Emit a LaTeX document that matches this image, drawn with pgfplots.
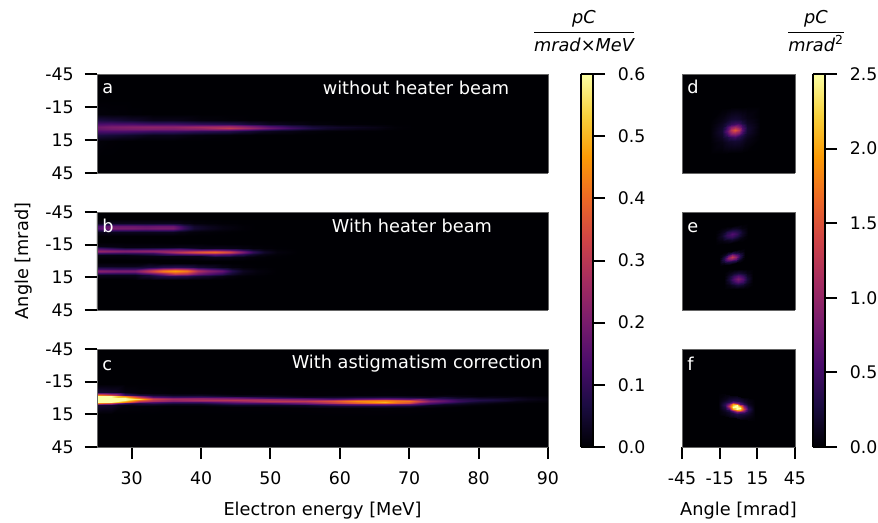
\documentclass[border=0pt]{standalone}
\usepackage{fontspec}
\setmainfont{DejaVu Sans}
\usepackage{pgfplots}
\pgfplotsset{compat=1.18}
\definecolor{inf0}{RGB}{0,0,4}
\pgfplotsset{
  colormap={inferno}{rgb255=(0,0,4) rgb255=(27,12,65) rgb255=(74,12,107) rgb255=(120,28,109) rgb255=(165,44,96) rgb255=(207,68,70) rgb255=(237,105,37) rgb255=(251,155,6) rgb255=(247,209,61) rgb255=(252,255,164)},
  colormap name=inferno,
  panel/.style={
    scale only axis, anchor=south west, view={0}{90},
    y dir=reverse, ymin=-45, ymax=45,
    axis background/.style={fill=inf0},
    axis on top,
    axis line style={draw=black!60, line width=0.7pt},
    tick style={draw=black, line width=1.5pt},
    major tick length=9pt,
    tick align=outside,
    ticklabel style={font=\fontsize{13}{15}\selectfont},
    xticklabel style={yshift=-6pt},
    yticklabel style={xshift=-5pt},
    label style={font=\fontsize{13.3}{15}\selectfont},
    xtick pos=bottom, ytick pos=left,
  },
  wide/.style={panel, width=338.25pt, xmin=25, xmax=90,
    point meta min=0, point meta max=0.6,
    ytick={-45,-15,15,45}, yticklabels={-45,-15,15,45}, xtick=\empty},
  narrow/.style={panel, width=84.75pt, xmin=-45, xmax=45,
    point meta min=0, point meta max=2.5,
    ytick=\empty, xtick=\empty},
  cbar/.style={scale only axis, anchor=south west, view={0}{90}, width=9.4pt, height=279.75pt,
    xmin=0, xmax=1, xtick=\empty, ytick pos=right, yticklabel pos=right,
    axis on top, axis line style={draw=black, line width=1.5pt},
    tick style={draw=black, line width=1.5pt}, major tick length=9pt, tick align=outside,
    ticklabel style={font=\fontsize{13}{15}\selectfont},
    yticklabel style={xshift=6pt}},
}
\begin{document}
\begin{tikzpicture}
\useasboundingbox (0,0) rectangle (658.5pt,391.5pt);
% panel a
\begin{axis}[wide, at={(72.75pt,261.75pt)}, height=74.25pt]
\addplot3[surf, shader=interp, mesh/cols=11] coordinates {
(25,-21.5,0)(25,-8.5,.006)(25,-3,.065)(25,0,.135)(25,2,.172)(25,3.2,.185)(25,5,.172)(25,7,.135)(25,10,.065)(25,16,.006)(25,33.5,0)
(27,-21.5,0)(27,-8.5,.004)(27,-3,.056)(27,0,.14)(27,2,.19)(27,3.2,.205)(27,5,.19)(27,7,.14)(27,10,.056)(27,16,.002)(27,33.5,0)
(30,-21.5,0)(30,-8.5,.001)(30,-3,.04)(30,0,.135)(30,2,.2)(30,3.3,.22)(30,5,.2)(30,7,.135)(30,10,.04)(30,16,0)(30,33.5,0)
(33,-21.5,0)(33,-8.5,0)(33,-3,.022)(33,0,.12)(33,2,.205)(33,3.4,.23)(33,5,.205)(33,7,.12)(33,10,.022)(33,16,0)(33,33.5,0)
(36,-21.5,0)(36,-8.5,0)(36,-3,.022)(36,0,.12)(36,2,.205)(36,3.5,.23)(36,5,.205)(36,7,.12)(36,10,.022)(36,16,0)(36,33.5,0)
(40,-21.5,0)(40,-8.5,0)(40,-3,.009)(40,0,.1)(40,2,.22)(40,3.6,.265)(40,5,.22)(40,7,.1)(40,10,.009)(40,16,0)(40,33.5,0)
(44,-21.5,0)(44,-8.5,0)(44,-3,.004)(44,0,.086)(44,2,.24)(44,3.8,.31)(44,5.4,.24)(44,7,.086)(44,10,.004)(44,16,0)(44,33.5,0)
(47,-21.5,0)(47,-8.5,0)(47,-3,.001)(47,0,.054)(47,2,.19)(47,3.8,.25)(47,5.4,.19)(47,7,.054)(47,10,.001)(47,16,0)(47,33.5,0)
(50,-21.5,0)(50,-8.5,0)(50,-3,0)(50,0,.028)(50,2,.13)(50,3.8,.18)(50,5.4,.13)(50,7,.028)(50,10,0)(50,16,0)(50,33.5,0)
(53,-21.5,0)(53,-8.5,0)(53,-3,0)(53,0,.018)(53,2,.085)(53,3.8,.12)(53,5.4,.085)(53,7,.018)(53,10,0)(53,16,0)(53,33.5,0)
(56,-21.5,0)(56,-8.5,0)(56,-3,0)(56,0,.007)(56,2,.048)(56,3.8,.07)(56,5.4,.048)(56,7,.007)(56,10,0)(56,16,0)(56,33.5,0)
(60,-21.5,0)(60,-8.5,0)(60,-3,0)(60,0,.002)(60,2,.025)(60,3.5,.04)(60,5,.025)(60,7,.002)(60,10,0)(60,16,0)(60,33.5,0)
(65,-21.5,0)(65,-8.5,0)(65,-3,0)(65,0,.001)(65,2,.012)(65,3.5,.02)(65,5,.012)(65,7,.001)(65,10,0)(65,16,0)(65,33.5,0)
(68,-21.5,0)(68,-8.5,0)(68,-3,0)(68,0,0)(68,2,.002)(68,3.5,.004)(68,5,.002)(68,7,0)(68,10,0)(68,16,0)(68,33.5,0)
(71,-21.5,0)(71,-8.5,0)(71,-3,0)(71,0,0)(71,2,0)(71,3.5,0)(71,5,0)(71,7,0)(71,10,0)(71,16,0)(71,33.5,0)
};
\end{axis}
% panel b
\begin{axis}[wide, at={(72.75pt,159pt)}, height=73.5pt, ylabel={Angle [mrad]}, ylabel style={yshift=3pt}]
\addplot3[surf, shader=interp, mesh/cols=9] coordinates {
(25,-38.7,0)(25,-34.7,.019)(25,-32.7,.085)(25,-31.7,.123)(25,-30.7,.14)(25,-29.7,.123)(25,-28.7,.085)(25,-26.7,.019)(25,-22.7,0)
(27,-38.7,0)(27,-34.7,.027)(27,-32.7,.122)(27,-31.7,.176)(27,-30.7,.2)(27,-29.7,.176)(27,-28.7,.122)(27,-26.7,.027)(27,-22.7,0)
(30,-38.7,0)(30,-34.7,.027)(30,-32.7,.122)(30,-31.7,.176)(30,-30.7,.2)(30,-29.7,.176)(30,-28.7,.122)(30,-26.7,.027)(30,-22.7,0)
(32,-38.7,0)(32,-34.7,.026)(32,-32.7,.116)(32,-31.7,.167)(32,-30.7,.19)(32,-29.7,.167)(32,-28.7,.116)(32,-26.7,.026)(32,-22.7,0)
(34,-38.7,0)(34,-34.7,.027)(34,-32.7,.122)(34,-31.7,.176)(34,-30.7,.2)(34,-29.7,.176)(34,-28.7,.122)(34,-26.7,.027)(34,-22.7,0)
(36,-38.7,0)(36,-34.7,.027)(36,-32.7,.122)(36,-31.7,.176)(36,-30.7,.2)(36,-29.7,.176)(36,-28.7,.122)(36,-26.7,.027)(36,-22.7,0)
(37.5,-38.7,0)(37.5,-34.7,.015)(37.5,-32.7,.067)(37.5,-31.7,.097)(37.5,-30.7,.11)(37.5,-29.7,.097)(37.5,-28.7,.067)(37.5,-26.7,.015)(37.5,-22.7,0)
(39,-38.7,0)(39,-34.7,.007)(39,-32.7,.031)(39,-31.7,.044)(39,-30.7,.05)(39,-29.7,.044)(39,-28.7,.031)(39,-26.7,.007)(39,-22.7,0)
(41,-38.7,0)(41,-34.7,.004)(41,-32.7,.018)(41,-31.7,.026)(41,-30.7,.03)(41,-29.7,.026)(41,-28.7,.018)(41,-26.7,.004)(41,-22.7,0)
(43,-38.7,0)(43,-34.7,.002)(43,-32.7,.009)(43,-31.7,.013)(43,-30.7,.015)(43,-29.7,.013)(43,-28.7,.009)(43,-26.7,.002)(43,-22.7,0)
(46,-38.7,0)(46,-34.7,0)(46,-32.7,.002)(46,-31.7,.003)(46,-30.7,.003)(46,-29.7,.003)(46,-28.7,.002)(46,-26.7,0)(46,-22.7,0)
(48,-38.7,0)(48,-34.7,0)(48,-32.7,0)(48,-31.7,0)(48,-30.7,0)(48,-29.7,0)(48,-28.7,0)(48,-26.7,0)(48,-22.7,0)
};
\addplot3[surf, shader=interp, mesh/cols=9] coordinates {
(25,-17.5,0)(25,-13.5,.015)(25,-11.5,.12)(25,-10.5,.202)(25,-9.5,.24)(25,-8.5,.202)(25,-7.5,.12)(25,-5.5,.015)(25,-1.5,0)
(29,-17.3,0)(29,-13.3,.013)(29,-11.3,.105)(29,-10.3,.176)(29,-9.3,.21)(29,-8.3,.176)(29,-7.3,.105)(29,-5.3,.013)(29,-1.3,0)
(33,-17,0)(33,-13,.014)(33,-11,.115)(33,-10,.193)(33,-9,.23)(33,-8,.193)(33,-7,.115)(33,-5,.014)(33,-1,0)
(37,-16.6,0)(37,-12.6,.019)(37,-10.6,.15)(37,-9.6,.252)(37,-8.6,.30)(37,-7.6,.252)(37,-6.6,.15)(37,-4.6,.019)(37,-.6,0)
(40,-16.2,0)(40,-12.2,.023)(40,-10.2,.185)(40,-9.2,.311)(40,-8.2,.37)(40,-7.2,.311)(40,-6.2,.185)(40,-4.2,.023)(40,-.2,0)
(42,-16,0)(42,-12,.025)(42,-10,.2)(42,-9,.336)(42,-8,.40)(42,-7,.336)(42,-6,.2)(42,-4,.025)(42,0,0)
(44,-16,0)(44,-12,.021)(44,-10,.17)(44,-9,.286)(44,-8,.34)(44,-7,.286)(44,-6,.17)(44,-4,.021)(44,0,0)
(46,-16,0)(46,-12,.013)(46,-10,.1)(46,-9,.168)(46,-8,.2)(46,-7,.168)(46,-6,.1)(46,-4,.013)(46,0,0)
(47.5,-16,0)(47.5,-12,.006)(47.5,-10,.05)(47.5,-9,.084)(47.5,-8,.1)(47.5,-7,.084)(47.5,-6,.05)(47.5,-4,.006)(47.5,0,0)
(49,-16,0)(49,-12,.003)(49,-10,.02)(49,-9,.034)(49,-8,.04)(49,-7,.034)(49,-6,.02)(49,-4,.003)(49,0,0)
(51,-16,0)(51,-12,.001)(51,-10,.005)(51,-9,.008)(51,-8,.01)(51,-7,.008)(51,-6,.005)(51,-4,.001)(51,0,0)
(54,-16,0)(54,-12,0)(54,-10,0)(54,-9,0)(54,-8,0)(54,-7,0)(54,-6,0)(54,-4,0)(54,0,0)
};
\addplot3[surf, shader=interp, mesh/cols=9] coordinates {
(25,.9,0)(25,4.9,.024)(25,6.9,.127)(25,7.9,.191)(25,8.9,.22)(25,9.9,.191)(25,10.9,.127)(25,12.9,.024)(25,16.9,0)
(28,.9,0)(28,4.9,.022)(28,6.9,.115)(28,7.9,.174)(28,8.9,.2)(28,9.9,.174)(28,10.9,.115)(28,12.9,.022)(28,16.9,0)
(30.5,1,0)(30.5,5,.022)(30.5,7,.115)(30.5,8,.174)(30.5,9,.2)(30.5,10,.174)(30.5,11,.115)(30.5,13,.022)(30.5,17,0)
(32.5,1.2,0)(32.5,5.2,.057)(32.5,7.2,.198)(32.5,8.2,.27)(32.5,9.2,.3)(32.5,10.2,.27)(32.5,11.2,.198)(32.5,13.2,.057)(32.5,17.2,0)
(34.5,1.4,0)(34.5,5.4,.08)(34.5,7.4,.277)(34.5,8.4,.378)(34.5,9.4,.42)(34.5,10.4,.378)(34.5,11.4,.277)(34.5,13.4,.08)(34.5,17.4,0)
(36.2,1.5,0)(36.2,5.5,.089)(36.2,7.5,.31)(36.2,8.5,.423)(36.2,9.5,.47)(36.2,10.5,.423)(36.2,11.5,.31)(36.2,13.5,.089)(36.2,17.5,0)
(38,1.5,0)(38,5.5,.08)(38,7.5,.277)(38,8.5,.378)(38,9.5,.42)(38,10.5,.378)(38,11.5,.277)(38,13.5,.08)(38,17.5,0)
(39.5,1.5,0)(39.5,5.5,.053)(39.5,7.5,.185)(39.5,8.5,.252)(39.5,9.5,.28)(39.5,10.5,.252)(39.5,11.5,.185)(39.5,13.5,.053)(39.5,17.5,0)
(41,1.5,0)(41,5.5,.042)(41,7.5,.145)(41,8.5,.198)(41,9.5,.22)(41,10.5,.198)(41,11.5,.145)(41,13.5,.042)(41,17.5,0)
(43,1.5,0)(43,5.5,.019)(43,7.5,.098)(43,8.5,.148)(43,9.5,.17)(43,10.5,.148)(43,11.5,.098)(43,13.5,.019)(43,17.5,0)
(44.5,1.5,0)(44.5,5.5,.009)(44.5,7.5,.046)(44.5,8.5,.07)(44.5,9.5,.08)(44.5,10.5,.07)(44.5,11.5,.046)(44.5,13.5,.009)(44.5,17.5,0)
(46,1.5,0)(46,5.5,.003)(46,7.5,.017)(46,8.5,.026)(46,9.5,.03)(46,10.5,.026)(46,11.5,.017)(46,13.5,.003)(46,17.5,0)
(48,1.5,0)(48,5.5,.001)(48,7.5,.006)(48,8.5,.009)(48,9.5,.01)(48,10.5,.009)(48,11.5,.006)(48,13.5,.001)(48,17.5,0)
(51,1.5,0)(51,5.5,0)(51,7.5,0)(51,8.5,0)(51,9.5,0)(51,10.5,0)(51,11.5,0)(51,13.5,0)(51,17.5,0)
};
\end{axis}
% panel c
\begin{axis}[wide, at={(72.75pt,56.25pt)}, height=73.5pt,
  xtick={30,40,50,60,70,80,90}, xticklabels={30,40,50,60,70,80,90}, xlabel={Electron energy [MeV]}, xlabel style={yshift=-6pt}]
\addplot3[surf, shader=interp, mesh/cols=11] coordinates {
(25,-13.2,0)(25,-5.2,.05)(25,-3.2,.445)(25,-1.7,.976)(25,-.4,1.42)(25,.8,1.6)(25,2,1.42)(25,3.3,.976)(25,4.8,.445)(25,6.8,.05)(25,14.8,0)
(27,-13.2,0)(27,-5.2,.04)(27,-3.2,.36)(27,-1.7,.79)(27,-.4,1.16)(27,.8,1.3)(27,2,1.16)(27,3.3,.79)(27,4.8,.36)(27,6.8,.04)(27,14.8,0)
(29,-13.2,0)(29,-5.2,.01)(29,-3.2,.128)(29,-1.7,.435)(29,-.4,.79)(29,.8,.95)(29,2,.79)(29,3.3,.435)(29,4.8,.128)(29,6.8,.01)(29,14.8,0)
(31,-13,0)(31,-5,.006)(31,-3,.068)(31,-1.5,.229)(31,-.2,.418)(31,1,.55)(31,2.2,.418)(31,3.5,.229)(31,5,.068)(31,7,.006)(31,15,0)
(33,-12.8,0)(33,-4.8,.004)(33,-2.8,.045)(33,-1.3,.15)(33,0,.276)(33,1.2,.33)(33,2.4,.276)(33,3.7,.15)(33,5.2,.045)(33,7.2,.004)(33,15.2,0)
(36,-12.7,0)(36,-4.7,.002)(36,-2.7,.029)(36,-1.2,.113)(36,.1,.221)(36,1.3,.27)(36,2.5,.221)(36,3.8,.113)(36,5.3,.029)(36,7.3,.002)(36,15.3,0)
(40,-12.4,0)(40,-4.4,.002)(40,-2.4,.031)(40,-.9,.118)(40,.4,.23)(40,1.6,.28)(40,2.8,.23)(40,4.1,.118)(40,5.6,.031)(40,7.6,.002)(40,15.6,0)
(45,-12,0)(45,-4,.002)(45,-2,.033)(45,-.5,.126)(45,.8,.246)(45,2,.30)(45,3.2,.246)(45,4.5,.126)(45,6,.033)(45,8,.002)(45,16,0)
(50,-11.6,0)(50,-3.6,.002)(50,-1.6,.033)(50,-.1,.126)(50,1.2,.246)(50,2.4,.30)(50,3.6,.246)(50,4.9,.126)(50,6.4,.033)(50,8.4,.002)(50,16.4,0)
(55,-11.2,0)(55,-3.2,.002)(55,-1.2,.034)(55,.3,.13)(55,1.6,.254)(55,2.8,.31)(55,4,.254)(55,5.3,.13)(55,6.8,.034)(55,8.8,.002)(55,16.8,0)
(59,-11,0)(59,-3,.003)(59,-1,.039)(59,.5,.151)(59,1.8,.295)(59,3,.36)(59,4.2,.295)(59,5.5,.151)(59,7,.039)(59,9,.003)(59,17,0)
(62.5,-10.8,0)(62.5,-2.8,.003)(62.5,-.8,.049)(62.5,.7,.189)(62.5,2,.369)(62.5,3.2,.45)(62.5,4.4,.369)(62.5,5.7,.189)(62.5,7.2,.049)(62.5,9.2,.003)(62.5,17.2,0)
(66.5,-10.6,0)(66.5,-2.6,.004)(66.5,-.6,.055)(66.5,.9,.21)(66.5,2.2,.41)(66.5,3.4,.50)(66.5,4.6,.41)(66.5,5.9,.21)(66.5,7.4,.055)(66.5,9.4,.004)(66.5,17.4,0)
(70,-10.8,0)(70,-2.8,.003)(70,-.8,.046)(70,.7,.176)(70,2,.344)(70,3.2,.42)(70,4.4,.344)(70,5.7,.176)(70,7.2,.046)(70,9.2,.003)(70,17.2,0)
(73,-11.2,0)(73,-3.2,.002)(73,-1.2,.03)(73,.3,.10)(73,1.6,.184)(73,2.8,.22)(73,4,.184)(73,5.3,.10)(73,6.8,.03)(73,8.8,.002)(73,16.8,0)
(77,-11.6,0)(77,-3.6,.001)(77,-1.6,.015)(77,-.1,.05)(77,1.2,.092)(77,2.4,.11)(77,3.6,.092)(77,4.9,.05)(77,6.4,.015)(77,8.4,.001)(77,16.4,0)
(80,-12,0)(80,-4,0)(80,-2,.004)(80,-.5,.024)(80,.8,.06)(80,2,.08)(80,3.2,.06)(80,4.5,.024)(80,6,.004)(80,8,0)(80,16,0)
(84,-12.5,0)(84,-4.5,0)(84,-2.5,.002)(84,-1,.015)(84,.3,.038)(84,1.5,.05)(84,2.7,.038)(84,4,.015)(84,5.5,.002)(84,7.5,0)(84,15.5,0)
(87,-13,0)(87,-5,0)(87,-3,.001)(87,-1.5,.007)(87,-.2,.019)(87,1,.025)(87,2.2,.019)(87,3.5,.007)(87,5,.001)(87,7,0)(87,15,0)
(90,-13,0)(90,-5,0)(90,-3,0)(90,-1.5,.003)(90,-.2,.008)(90,1,.01)(90,2.2,.008)(90,3.5,.003)(90,5,0)(90,7,0)(90,15,0)
};
\end{axis}
% panel d
\begin{axis}[narrow, at={(511.5pt,261.75pt)}, height=74.25pt]
\addplot3[surf, shader=interp, mesh/cols=9] coordinates {
(-23,-12.5,0)(-23,-2.5,.003)(-23,1.5,.006)(-23,4.5,.007)(-23,7.5,.008)(-23,10.5,.007)(-23,13.5,.006)(-23,17.5,.003)(-23,27.5,0)
(-13,-13.2,.007)(-13,-3.2,.075)(-13,.8,.13)(-13,3.8,.18)(-13,6.8,.21)(-13,9.8,.18)(-13,12.8,.13)(-13,16.8,.075)(-13,26.8,.007)
(-9,-13.5,.014)(-9,-3.5,.145)(-9,.5,.28)(-9,3.5,.51)(-9,6.5,.67)(-9,9.5,.51)(-9,12.5,.28)(-9,16.5,.145)(-9,26.5,.014)
(-6,-13.8,.018)(-6,-3.8,.19)(-6,.2,.42)(-6,3.2,.89)(-6,6.2,1.24)(-6,9.2,.89)(-6,12.2,.42)(-6,16.2,.19)(-6,26.2,.018)
(-3,-14,.02)(-3,-4,.21)(-3,0,.49)(-3,3,1.09)(-3,6,1.55)(-3,9,1.09)(-3,12,.49)(-3,16,.21)(-3,26,.02)
(0,-14.2,.018)(0,-4.2,.19)(0,-.2,.42)(0,2.8,.89)(0,5.8,1.24)(0,8.8,.89)(0,11.8,.42)(0,15.8,.19)(0,25.8,.018)
(3,-14.5,.014)(3,-4.5,.145)(3,-.5,.28)(3,2.5,.51)(3,5.5,.67)(3,8.5,.51)(3,11.5,.28)(3,15.5,.145)(3,25.5,.014)
(7,-14.8,.007)(7,-4.8,.075)(7,-.8,.13)(7,2.2,.18)(7,5.2,.21)(7,8.2,.18)(7,11.2,.13)(7,15.2,.075)(7,25.2,.007)
(17,-15.5,0)(17,-5.5,.003)(17,-1.5,.006)(17,1.5,.007)(17,4.5,.008)(17,7.5,.007)(17,10.5,.006)(17,14.5,.003)(17,24.5,0)
};
\end{axis}
% panel e
\begin{axis}[narrow, at={(511.5pt,159pt)}, height=73.5pt]
\addplot3[surf, shader=interp, mesh/cols=7] coordinates {
(-18.4,-30.5,0)(-18.4,-27.5,0)(-18.4,-24.9,0)(-18.4,-22.5,0)(-18.4,-20.1,0)(-18.4,-17.5,0)(-18.4,-14.5,0)
(-13.4,-31.3,0)(-13.4,-28.3,.05)(-13.4,-25.7,.12)(-13.4,-23.3,.17)(-13.4,-20.9,.12)(-13.4,-18.3,.05)(-13.4,-15.3,0)
(-9.4,-31.9,0)(-9.4,-28.9,.12)(-9.4,-26.3,.32)(-9.4,-23.9,.44)(-9.4,-21.5,.32)(-9.4,-18.9,.12)(-9.4,-15.9,0)
(-5.4,-32.5,0)(-5.4,-29.5,.17)(-5.4,-26.9,.44)(-5.4,-24.5,.6)(-5.4,-22.1,.44)(-5.4,-19.5,.17)(-5.4,-16.5,0)
(-1.4,-33.1,0)(-1.4,-30.1,.12)(-1.4,-27.5,.32)(-1.4,-25.1,.44)(-1.4,-22.7,.32)(-1.4,-20.1,.12)(-1.4,-17.1,0)
(2.6,-33.7,0)(2.6,-30.7,.05)(2.6,-28.1,.12)(2.6,-25.7,.17)(2.6,-23.3,.12)(2.6,-20.7,.05)(2.6,-17.7,0)
(7.6,-34.5,0)(7.6,-31.5,0)(7.6,-28.9,0)(7.6,-26.5,0)(7.6,-24.1,0)(7.6,-21.5,0)(7.6,-18.5,0)
};
\addplot3[surf, shader=interp, mesh/cols=7] coordinates {
(-15.4,-7.5,0)(-15.4,-5.1,0)(-15.4,-3.2,0)(-15.4,-1.3,0)(-15.4,.6,0)(-15.4,2.5,0)(-15.4,4.9,0)
(-11.4,-8.3,0)(-11.4,-5.9,.10)(-11.4,-4,.27)(-11.4,-2.1,.36)(-11.4,-.2,.27)(-11.4,1.7,.10)(-11.4,4.1,0)
(-8.2,-9,0)(-8.2,-6.6,.27)(-8.2,-4.7,.69)(-8.2,-2.8,.95)(-8.2,-.9,.69)(-8.2,1,.27)(-8.2,3.4,0)
(-5,-9.6,0)(-5,-7.2,.36)(-5,-5.3,.95)(-5,-3.4,1.3)(-5,-1.5,.95)(-5,.4,.36)(-5,2.8,0)
(-1.8,-10.2,0)(-1.8,-7.8,.27)(-1.8,-5.9,.69)(-1.8,-4,.95)(-1.8,-2.1,.69)(-1.8,-.2,.27)(-1.8,2.2,0)
(1.4,-10.9,0)(1.4,-8.5,.10)(1.4,-6.6,.27)(1.4,-4.7,.36)(1.4,-2.8,.27)(1.4,-.9,.10)(1.4,1.5,0)
(5.4,-11.7,0)(5.4,-9.3,0)(5.4,-7.4,0)(5.4,-5.5,0)(5.4,-3.6,0)(5.4,-1.7,0)(5.4,.7,0)
};
\addplot3[surf, shader=interp, mesh/cols=7] coordinates {
(-11.9,7.5,0)(-11.9,10.9,0)(-11.9,13.7,0)(-11.9,16.5,0)(-11.9,19.3,0)(-11.9,22.1,0)(-11.9,25.5,0)
(-7.4,7.5,0)(-7.4,10.9,.07)(-7.4,13.7,.17)(-7.4,16.5,.24)(-7.4,19.3,.17)(-7.4,22.1,.07)(-7.4,25.5,0)
(-3.8,7.5,0)(-3.8,10.9,.17)(-3.8,13.7,.45)(-3.8,16.5,.62)(-3.8,19.3,.45)(-3.8,22.1,.17)(-3.8,25.5,0)
(-.2,7.5,0)(-.2,10.9,.24)(-.2,13.7,.62)(-.2,16.5,.85)(-.2,19.3,.62)(-.2,22.1,.24)(-.2,25.5,0)
(3.4,7.5,0)(3.4,10.9,.17)(3.4,13.7,.45)(3.4,16.5,.62)(3.4,19.3,.45)(3.4,22.1,.17)(3.4,25.5,0)
(7,7.5,0)(7,10.9,.07)(7,13.7,.17)(7,16.5,.24)(7,19.3,.17)(7,22.1,.07)(7,25.5,0)
(11.5,7.5,0)(11.5,10.9,0)(11.5,13.7,0)(11.5,16.5,0)(11.5,19.3,0)(11.5,22.1,0)(11.5,25.5,0)
};
\end{axis}
% panel f
\begin{axis}[narrow, at={(511.5pt,56.25pt)}, height=73.5pt,
  xtick={-45,-15,15,45}, xticklabels={-45,-15,15,45}, xlabel={Angle [mrad]}, xlabel style={yshift=-6pt}]
\addplot3[surf, shader=interp, mesh/cols=9] coordinates {
(-15.5,-4.3,.005)(-15.5,-.3,.019)(-15.5,1.7,.029)(-15.5,3.7,.038)(-15.5,5.7,.044)(-15.5,7.7,.038)(-15.5,9.7,.029)(-15.5,11.7,.019)(-15.5,15.7,.005)
(-10.5,-3.3,.026)(-10.5,.7,.095)(-10.5,2.7,.17)(-10.5,4.7,.3)(-10.5,6.7,.4)(-10.5,8.7,.3)(-10.5,10.7,.17)(-10.5,12.7,.095)(-10.5,16.7,.026)
(-7.5,-2.7,.049)(-7.5,1.3,.18)(-7.5,3.3,.35)(-7.5,5.3,.85)(-7.5,7.3,1.3)(-7.5,9.3,.85)(-7.5,11.3,.35)(-7.5,13.3,.18)(-7.5,17.3,.049)
(-4.5,-2.1,.071)(-4.5,1.9,.26)(-4.5,3.9,.65)(-4.5,5.9,2.0)(-4.5,7.9,3.0)(-4.5,9.9,2.0)(-4.5,11.9,.65)(-4.5,13.9,.26)(-4.5,17.9,.071)
(-1.5,-1.5,.081)(-1.5,2.5,.30)(-1.5,4.5,.8)(-1.5,6.5,2.5)(-1.5,8.5,3.4)(-1.5,10.5,2.5)(-1.5,12.5,.8)(-1.5,14.5,.30)(-1.5,18.5,.081)
(1.5,-.9,.071)(1.5,3.1,.26)(1.5,5.1,.65)(1.5,7.1,2.0)(1.5,9.1,3.0)(1.5,11.1,2.0)(1.5,13.1,.65)(1.5,15.1,.26)(1.5,19.1,.071)
(4.5,-.3,.049)(4.5,3.7,.18)(4.5,5.7,.35)(4.5,7.7,.85)(4.5,9.7,1.3)(4.5,11.7,.85)(4.5,13.7,.35)(4.5,15.7,.18)(4.5,19.7,.049)
(7.5,.3,.026)(7.5,4.3,.095)(7.5,6.3,.17)(7.5,8.3,.3)(7.5,10.3,.4)(7.5,12.3,.3)(7.5,14.3,.17)(7.5,16.3,.095)(7.5,20.3,.026)
(12.5,1.3,.005)(12.5,5.3,.019)(12.5,7.3,.029)(12.5,9.3,.038)(12.5,11.3,.044)(12.5,13.3,.038)(12.5,15.3,.029)(12.5,17.3,.019)(12.5,21.3,.005)
};
\end{axis}
% colour bars
\begin{axis}[cbar, at={(435.4pt,56.25pt)}, ymin=0, ymax=0.6, point meta min=0, point meta max=0.6,
  ytick={0,0.1,0.2,0.3,0.4,0.5,0.6}, yticklabels={0.0,0.1,0.2,0.3,0.4,0.5,0.6}]
\addplot3[surf, shader=interp, mesh/cols=2] coordinates {
(0,0,0)(1,0,0)
(0,0.6,0.6)(1,0.6,0.6)
};
\end{axis}
\begin{axis}[cbar, at={(609.4pt,56.25pt)}, ymin=0, ymax=2.5, point meta min=0, point meta max=2.5,
  ytick={0,0.5,1,1.5,2,2.5}, yticklabels={0.0,0.5,1.0,1.5,2.0,2.5}]
\addplot3[surf, shader=interp, mesh/cols=2] coordinates {
(0,0,0)(1,0,0)
(0,2.5,2.5)(1,2.5,2.5)
};
\end{axis}
% texts, placed in reference pixels
\begin{scope}[x=0.75pt, y=-0.75pt, yshift=391.5pt]
\def\lab{\fontsize{13.3}{16}\selectfont}
\node[text=white, font=\lab] at (416,88) {without heater beam};
\node[text=white, font=\lab] at (412,226) {With heater beam};
\node[text=white, font=\lab] at (417,364) {With astigmatism correction};
\node[text=white, font=\lab, anchor=base west, inner sep=0pt] at (102,94) {a};
\node[text=white, font=\lab, anchor=base west, inner sep=0pt] at (102,232) {b};
\node[text=white, font=\lab, anchor=base west, inner sep=0pt] at (102,370) {c};
\node[text=white, font=\lab, anchor=base west, inner sep=0pt] at (687,94) {d};
\node[text=white, font=\lab, anchor=base west, inner sep=0pt] at (687,232) {e};
\node[text=white, font=\lab, anchor=base west, inner sep=0pt] at (687,370) {f};
\node[font=\lab] at (584,31) {$\displaystyle\frac{\mbox{\lab\itshape pC}}{\mbox{\rule{0pt}{13pt}\lab\itshape mrad×MeV}}$};
\node[font=\lab] at (816,31) {$\displaystyle\frac{\mbox{\lab\itshape pC}}{\mbox{\rule{0pt}{13pt}\lab\itshape mrad\textsuperscript{\upshape 2}}}$};
\end{scope}
\end{tikzpicture}
\end{document}
